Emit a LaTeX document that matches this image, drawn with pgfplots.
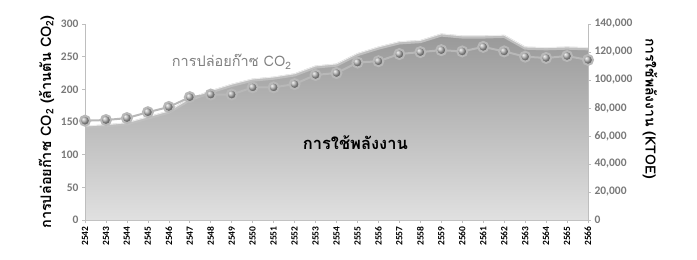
\documentclass[border=0pt]{standalone}
\usepackage{fontspec}
\setmainfont{Carlito}
\newfontfamily\thai[Script=Thai]{Loma}
\usepackage{pgfplots}
\usepackage{pgfplotstable}
\pgfplotsset{compat=1.18}
\usetikzlibrary{calc}
\definecolor{axgray}{RGB}{190,190,190}
\definecolor{tickgray}{RGB}{120,120,120}

\pgfplotstableread{
year ktoe
2542 66270
2543 67200
2544 68600
2545 72800
2546 77000
2547 85870
2548 91470
2549 96130
2550 99870
2551 101270
2552 103600
2553 109200
2554 110600
2555 118070
2556 122730
2557 126470
2558 127400
2559 132070
2560 130670
2561 130670
2562 131130
2563 122730
2564 122270
2565 122730
2566 122270
}\energy

\pgfplotstableread{
year co2
2542 152
2543 153
2544 156
2545 165
2546 173
2547 188
2548 192
2549 192
2550 203
2551 203
2552 208
2553 222
2554 225
2555 241
2556 243
2557 254
2558 257
2559 260
2560 258
2561 265
2562 258
2563 250
2564 248
2565 251
2566 245
}\cotwo

\begin{document}
\begin{tikzpicture}
\pgfplotsset{
  common/.style={
    scale only axis, width=503pt, height=196pt,
    xmin=2542, xmax=2566,
    axis line style={axgray, line width=0.8pt},
    tick style={axgray, line width=0.6pt},
    tick align=outside, major tick length=3pt,
    /pgf/number format/assume math mode=true,
  }
}
\begin{axis}[common, name=ax1,
  ymin=0, ymax=140000,
  axis y line*=right, axis x line*=bottom,
  xtick={2542,...,2566},
  xticklabel style={rotate=90, anchor=east, font=\fontsize{9.5}{10}\selectfont\bfseries, text=black},
  x tick label style={/pgf/number format/1000 sep={}},
  ytick={0,20000,...,140000},
  scaled y ticks=false,
  yticklabel style={font=\fontsize{11.5}{12}\selectfont\bfseries, text=tickgray, /pgf/number format/.cd, fixed, 1000 sep={,}},
]
\addplot[draw=none, top color=black!40, bottom color=black!12] table[x=year,y=ktoe]{\energy} \closedcycle;
\addplot[black!25, line width=3pt] table[x=year,y=ktoe]{\energy};
\addplot[white!85!gray, line width=0.9pt, yshift=1.2pt] table[x=year,y=ktoe]{\energy};
\end{axis}
\begin{axis}[common,
  ymin=0, ymax=300,
  axis y line*=left, axis x line=none,
  ytick={0,50,...,300},
  yticklabel style={font=\fontsize{11.5}{12}\selectfont\bfseries, text=tickgray},
  ylabel={\thai\bfseries การปล่อยก๊าซ CO\textsubscript{2} (ล้านตัน CO\textsubscript{2})},
  ylabel style={font=\fontsize{14.5}{15}\selectfont},
  clip=false,
]
\addplot[black!28, line width=2pt, mark=ball, mark size=5pt, mark options={ball color=black!35}] table[x=year,y=co2]{\cotwo};
\node[text=black!50, font=\fontsize{14.5}{15}\selectfont\thai] at (axis cs:2549,242) {การปล่อยก๊าซ CO\textsubscript{2}};
\node[text=black, font=\fontsize{16.5}{17}\selectfont\thai\bfseries] at (axis cs:2554.9,119) {การใช้พลังงาน};
\end{axis}
\node[rotate=-90, font=\fontsize{14}{15}\selectfont\thai\bfseries] at ($(ax1.south east)!0.569!(ax1.north east)+(62pt,0)$) {การใช้พลังงาน (KTOE)};
\pgfresetboundingbox
\path[use as bounding box] ($(ax1.south west)+(-85pt,-40pt)$) rectangle ($(ax1.north east)+(109pt,24pt)$);
\end{tikzpicture}
\end{document}
